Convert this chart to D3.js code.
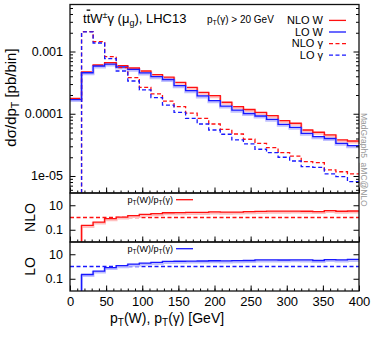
<!DOCTYPE html>
<html>
<head>
<meta charset="utf-8">
<title>ttWgamma-pt-spectrum</title>
<style>
body { margin: 0; background: #fff; }
text { font-family: "Liberation Sans", Arial, sans-serif; }
</style>
</head>
<body>
<script src="https://d3js.org/d3.v7.min.js"></script>
<script>
// bin edges in GeV (16 GeV bins)
var edges = [0,16,32,48,64,80,96,112,128,144,160,176,192,208,224,240,256,272,288,304,320,336,352,368,384,400];

// d(sigma)/dpT [pb/bin], one value per bin
var nloW = [1.76e-4,4.69e-4,6.07e-4,6.61e-4,5.92e-4,5.43e-4,4.86e-4,4.24e-4,3.89e-4,3.20e-4,2.66e-4,2.21e-4,1.95e-4,1.53e-4,1.30e-4,1.17e-4,1.05e-4,9.30e-5,7.73e-5,7.03e-5,5.48e-5,5.04e-5,4.56e-5,3.79e-5,3.65e-5];
var loW = [1.69e-4,4.56e-4,5.85e-4,6.29e-4,5.64e-4,5.18e-4,4.52e-4,3.94e-4,3.55e-4,2.82e-4,2.35e-4,1.93e-4,1.62e-4,1.33e-4,1.14e-4,1.01e-4,9.20e-5,8.15e-5,6.77e-5,6.06e-5,4.85e-5,4.28e-5,4.00e-5,3.35e-5,3.07e-5];
var nloGamma = [0,2.08e-3,1.44e-3,8.25e-4,5.50e-4,3.80e-4,2.66e-4,2.08e-4,1.60e-4,1.30e-4,1.02e-4,8.45e-5,6.84e-5,5.62e-5,4.73e-5,3.89e-5,3.35e-5,2.85e-5,2.37e-5,2.09e-5,1.70e-5,1.64e-5,1.25e-5,1.17e-5,1.08e-5];
var loGamma = [0,2.06e-3,1.37e-3,7.66e-4,4.86e-4,3.36e-4,2.41e-4,1.82e-4,1.38e-4,1.05e-4,8.45e-5,6.84e-5,5.48e-5,4.68e-5,3.79e-5,3.27e-5,2.69e-5,2.37e-5,2.00e-5,1.74e-5,1.41e-5,1.38e-5,1.08e-5,9.75e-6,8.09e-6];

// ticks
var xMajor = [0,50,100,150,200,250,300,350,400];
var mainTicks = [1e-3,1e-4,1e-5];
var mainTickLabels = ["0.001","0.0001","1e-05"];
var ratioTicks = [10,0.1];
var ratioTickLabels = ["10","0.1"];
var legendNames = ["NLO W","LO W","NLO \u03b3","LO \u03b3"];

var RED = "#ff1010", BLUE = "#1818ff", RED_BAND = "#ffc0c0", BLUE_BAND = "#c0c0ff";

var W = 382, H = 340;
var left = 70, right = 359;
var mainTop = 4.5, mainBot = 193, r1Bot = 242, r2Bot = 291;

var svg = d3.select("body").append("svg").attr("width", W).attr("height", H);

var x = d3.scaleLinear().domain([0,400]).range([left,right]);
var yMain = d3.scaleLog().domain([5.33e-6, 5.69e-3]).range([mainBot, mainTop]);
var yR1 = d3.scaleLog().domain([0.01,100]).range([r1Bot, mainBot]);
var yR2 = d3.scaleLog().domain([0.01,100]).range([r2Bot, r1Bot]);

// step outline for one histogram; empty bins at the start drop to the floor
function stepPoints(vals, floor) {
  var pts = [];
  vals.forEach(function (v, i) {
    if (v > 0) {
      if (pts.length === 0 && i > 0) pts.push([edges[i], floor]);
      pts.push([edges[i], v]);
      pts.push([edges[i+1], v]);
    }
  });
  return pts;
}

function ratio(a, b) {
  return a.map(function (v, i) { return b[i] > 0 ? v / b[i] : 0; });
}

function clip(id, y0, y1) {
  svg.append("clipPath").attr("id", id).append("rect")
    .attr("x", left).attr("y", y0).attr("width", right-left).attr("height", y1-y0);
}
clip("cMain", mainTop, mainBot); clip("cR1", mainBot, r1Bot); clip("cR2", r1Bot, r2Bot);

function drawHist(g, y, vals, color, dashed, band) {
  var line = d3.line().x(function (d) { return x(d[0]); }).y(function (d) { return y(d[1]); });
  var pts = stepPoints(vals, y.domain()[0]);
  if (band) {
    g.append("path").attr("d", line(pts)).attr("fill","none")
      .attr("stroke", band).attr("stroke-width", 2.6).attr("transform","translate(0,1.2)");
  }
  g.append("path").attr("d", line(pts)).attr("fill","none")
    .attr("stroke", color).attr("stroke-width", 1.3)
    .attr("stroke-dasharray", dashed ? "4,2.5" : null);
}

// main panel curves
var gMain = svg.append("g").attr("clip-path","url(#cMain)");
drawHist(gMain, yMain, nloW, RED, false, RED_BAND);
drawHist(gMain, yMain, loW, BLUE, false, BLUE_BAND);
drawHist(gMain, yMain, nloGamma, RED, true, null);
drawHist(gMain, yMain, loGamma, BLUE, true, null);

// ratio panels
function ratioPanel(id, y, vals, color, band) {
  var g = svg.append("g").attr("clip-path","url(#" + id + ")");
  g.append("line").attr("x1", x(0)).attr("x2", x(400)).attr("y1", y(1)).attr("y2", y(1))
    .attr("stroke", color).attr("stroke-width", 1.3).attr("stroke-dasharray","4,2.5");
  drawHist(g, y, vals, color, false, band);
}
ratioPanel("cR1", yR1, ratio(nloW, nloGamma), RED, RED_BAND);
ratioPanel("cR2", yR2, ratio(loW, loGamma), BLUE, BLUE_BAND);

// axes and frames
var minorX = d3.range(0, 401, 10);
function xTicks(yPos, labels) {
  var gMinor = svg.append("g").attr("transform","translate(0," + yPos + ")")
    .call(d3.axisBottom(x).tickValues(minorX).tickSize(-2.5).tickFormat(""));
  var gMajor = svg.append("g").attr("transform","translate(0," + yPos + ")")
    .call(d3.axisBottom(x).tickValues(xMajor).tickSize(-5.5).tickPadding(5.5)
      .tickFormat(labels ? d3.format("d") : ""));
  [gMinor, gMajor].forEach(function (g) {
    g.select(".domain").remove();
    g.selectAll("line").attr("stroke","#000").attr("stroke-width",1);
  });
  gMajor.selectAll("text").attr("font-size", 13).attr("font-family","Liberation Sans, Arial, sans-serif").attr("fill","#000");
}
xTicks(mainBot, false); xTicks(r1Bot, false); xTicks(r2Bot, true);

function yTicks(y, major, labels, minor) {
  var gl = svg.append("g").attr("transform","translate(" + left + ",0)")
    .call(d3.axisLeft(y).tickValues(major).tickSize(-5.5).tickPadding(7)
      .tickFormat(function (d, i) { return labels[i]; }));
  var gr = svg.append("g").attr("transform","translate(" + right + ",0)")
    .call(d3.axisRight(y).tickValues(major).tickSize(-5.5).tickFormat(""));
  var gs = [gl, gr];
  if (minor) {
    gs.push(svg.append("g").attr("transform","translate(" + left + ",0)")
      .call(d3.axisLeft(y).tickValues(minor).tickSize(-3).tickFormat("")));
    gs.push(svg.append("g").attr("transform","translate(" + right + ",0)")
      .call(d3.axisRight(y).tickValues(minor).tickSize(-3).tickFormat("")));
  }
  gs.forEach(function (g) {
    g.select(".domain").remove();
    g.selectAll("line").attr("stroke","#000").attr("stroke-width",1);
  });
  gl.selectAll("text").attr("font-size", 12.5).attr("font-family","Liberation Sans, Arial, sans-serif").attr("fill","#000");
}
var mainMinor = [];
[1e-6,1e-5,1e-4,1e-3].forEach(function (dec) {
  for (var k = 2; k <= 9; k++) {
    var v = k * dec;
    if (v > yMain.domain()[0] && v < yMain.domain()[1]) mainMinor.push(v);
  }
});
yTicks(yMain, mainTicks, mainTickLabels, mainMinor);
yTicks(yR1, ratioTicks, ratioTickLabels, null);
yTicks(yR2, ratioTicks, ratioTickLabels, null);

[[mainTop, mainBot],[mainBot, r1Bot],[r1Bot, r2Bot]].forEach(function (p) {
  svg.append("rect").attr("x", left).attr("y", p[0]).attr("width", right-left).attr("height", p[1]-p[0])
    .attr("fill","none").attr("stroke","#111").attr("stroke-width",1.3);
});

// titles
var title = svg.append("text").attr("x", 83).attr("y", 22.5).attr("font-size", 13);
title.append("tspan").text("t");
title.append("tspan").attr("text-decoration","overline").text("t");
title.append("tspan").text("W");
title.append("tspan").attr("font-size", 9).attr("dy", -5).text("\u00b1");
title.append("tspan").attr("dy", 5).text("\u03b3 (\u03bc");
title.append("tspan").attr("font-size", 9).attr("dy", 3).text("g");
title.append("tspan").attr("dy", -3).text("), LHC13");

var cut = svg.append("text").attr("x", 207).attr("y", 22.5).attr("font-size", 10);
cut.append("tspan").text("p");
cut.append("tspan").attr("font-size", 7).attr("dy", 2).text("T");
cut.append("tspan").attr("dy", -2).text("(\u03b3) > 20 GeV");

// legend
var legColors = [RED, BLUE, RED, BLUE], legDash = [false, false, true, true];
legendNames.forEach(function (name, i) {
  var yb = 24 + i * 11.6;
  svg.append("text").attr("x", 323).attr("y", yb).attr("text-anchor","end")
    .attr("font-size", 11).text(name);
  svg.append("line").attr("x1", 329).attr("x2", 346).attr("y1", yb - 3.6).attr("y2", yb - 3.6)
    .attr("stroke", legColors[i]).attr("stroke-width", 1.3)
    .attr("stroke-dasharray", legDash[i] ? "4,2.5" : null);
});

// ratio legends
[[202.7, RED],[251.7, BLUE]].forEach(function (r) {
  var t = svg.append("text").attr("x", 127.5).attr("y", r[0]).attr("font-size", 9);
  t.append("tspan").text("p");
  t.append("tspan").attr("font-size", 6.5).attr("dy", 2).text("T");
  t.append("tspan").attr("dy", -2).text("(W)/p");
  t.append("tspan").attr("font-size", 6.5).attr("dy", 2).text("T");
  t.append("tspan").attr("dy", -2).text("(\u03b3)");
  svg.append("line").attr("x1", 176).attr("x2", 193).attr("y1", r[0] - 3).attr("y2", r[0] - 3)
    .attr("stroke", r[1]).attr("stroke-width", 1.3);
});

// y axis titles
var yt = svg.append("text").attr("transform","translate(16,97.5) rotate(-90)")
  .attr("text-anchor","middle").attr("font-size", 15);
yt.append("tspan").text("d\u03c3/dp");
yt.append("tspan").attr("font-size", 10.5).attr("dy", 3).text("T");
yt.append("tspan").attr("dy", -3).text(" [pb/bin]");

svg.append("text").attr("transform","translate(35,217.5) rotate(-90)")
  .attr("text-anchor","middle").attr("font-size", 14).text("NLO");
svg.append("text").attr("transform","translate(35,266.5) rotate(-90)")
  .attr("text-anchor","middle").attr("font-size", 14).text("LO");

// x axis title
var xt = svg.append("text").attr("x", 110).attr("y", 322.5).attr("font-size", 14);
xt.append("tspan").text("p");
xt.append("tspan").attr("font-size", 10).attr("dy", 3).text("T");
xt.append("tspan").attr("dy", -3).text("(W), p");
xt.append("tspan").attr("font-size", 10).attr("dy", 3).text("T");
xt.append("tspan").attr("dy", -3).text("(\u03b3) [GeV]");

// generator tag
svg.append("text").attr("transform","translate(361,113) rotate(90)")
  .attr("font-size", 8.5).attr("fill","#999").text("MadGraph5_aMC@NLO");
</script>
</body>
</html>
